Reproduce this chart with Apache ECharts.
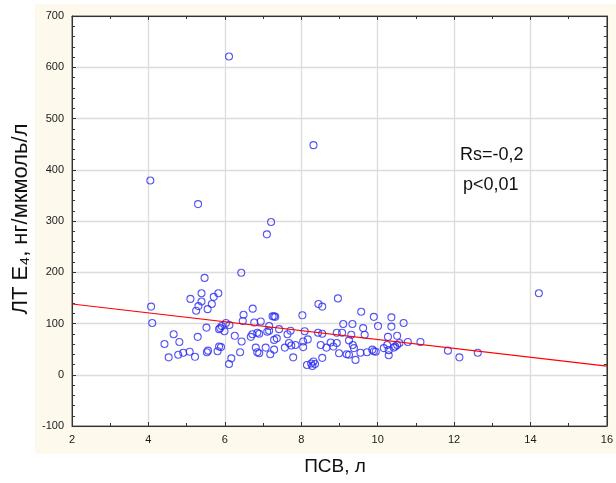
<!DOCTYPE html>
<html><head><meta charset="utf-8">
<script src="https://cdn.jsdelivr.net/npm/echarts@6/dist/echarts.min.js"></script>
<style>html,body{margin:0;padding:0;background:#fff}#c{width:616px;height:483px}</style>
</head><body><div id="c"></div>
<script>
// ПСВ, л (x) vs ЛТ E4 (y)
const outlierPoints = [[4.05,379],[6.11,621],[8.32,448],[5.30,333],[7.21,298],[7.10,274],[6.43,199],[5.47,189],[14.22,159]];
const leftPoints = [[4.07,133],[4.10,101],[5.10,148],[4.66,79],[4.42,60],[4.81,64],[4.53,34],[4.78,39],[4.91,43],[5.08,45],[5.22,35],[5.25,125],[5.29,74],
  [5.39,159],[5.83,159],[5.71,152],[5.39,143],[5.31,134],[5.66,138],[5.55,128],[5.52,92],[5.88,91],[5.85,89],[5.92,95],[6.03,101],[6.12,97],[6.49,117],[6.73,129],[6.47,105],[6.77,102],[5.99,85],[6.26,76],
  [5.53,44],[5.56,47],[5.81,46],[5.85,55],[5.90,54],[6.44,65],[6.40,44],[6.17,32],[6.11,21],[6.68,74],[6.72,79],[6.81,53],[6.85,44],[6.85,82]];
const midPoints = [[6.94,104],[6.90,80],[7.25,114],[7.29,114],[7.32,113],[7.16,95],[7.11,84],[7.16,86],[7.42,89],[7.29,68],[7.36,71],[7.64,79],[7.72,86],[7.68,62],[7.74,57],[7.85,58],[7.57,53],[7.07,53],[6.90,42],[7.19,40],[7.29,49],[7.79,34],
  [8.03,116],[8.09,85],[8.05,65],[8.17,69],[8.05,54],[8.15,19],[8.26,22],[8.32,26],[8.36,21],[8.29,17],[8.55,33],[8.51,58],[8.45,138],[8.55,133],[8.44,82],[8.55,80],[8.66,53],[8.77,63],[8.84,55],[8.93,62],[8.93,82],[8.96,149],
  [9.07,82],[9.10,99],[9.34,99],[8.99,42],[9.19,40],[9.25,67],[9.31,78],[9.35,58],[9.38,52],[9.25,39],[9.42,29],[9.57,123],[9.62,91],[9.66,78],[9.55,43],[9.72,44],[9.86,49],[9.90,113]];
const rightPoints = [[10.36,112],[10.01,95],[10.36,94],[10.68,101],[10.27,74],[10.51,76],[9.95,45],[9.90,46],[10.16,52],[10.25,58],[10.29,48],[10.29,38],[10.42,53],[10.46,55],[10.51,58],[10.57,62],[10.79,64],[11.12,64],[11.84,47],[12.14,34],[12.62,43]];
const fitLine = [[2,138],[16,17]];
const xRange = [2,16], xStep = 2;
const yRange = [-100,700], yStep = 100;
const annotation = ['Rs=-0,2','p<0,01'];
const xTitle = 'ПСВ, л';
const yTitle = 'ЛТ E₄, нг/мкмоль/л';

const allPoints = outlierPoints.concat(leftPoints, midPoints, rightPoints);
const chart = echarts.init(document.getElementById('c'), null, {renderer:'canvas'});
const tickFont = {fontFamily:'Liberation Sans', fontSize:11, color:'#1a1a1a'};
function mkAxis(pos, range, step, minorN, showLabel){
  return {
    type:'value', position:pos, min:range[0], max:range[1], interval:step,
    axisLine:{show:true, onZero:false, lineStyle:{color:'#333', width:1}},
    axisTick:{show:true, inside:true, length:4, lineStyle:{color:'#333', width:1}},
    minorTick:{show:true, splitNumber:minorN, length:3, lineStyle:{color:'#333', width:1}},
    splitLine:{show:showLabel, lineStyle:{color:'#dcdcdc', width:1.3}},
    axisLabel:Object.assign({show:showLabel, margin:8}, tickFont),
  };
}
const option = {
  backgroundColor:'#ffffff',
  animation:false,
  graphic:[
    {type:'rect', shape:{x:35,y:4,width:581,height:450}, style:{fill:'#fdf9ec'}, z:-10, silent:true},
    {type:'text', left:460, top:146, style:{text:annotation[0], font:'18px "Liberation Sans"', fill:'#111'}},
    {type:'text', left:463, top:176, style:{text:annotation[1], font:'18px "Liberation Sans"', fill:'#111'}},
    {type:'text', x:335, y:467, style:{text:xTitle, font:'19px "Liberation Sans"', fill:'#111', align:'center', verticalAlign:'middle'}},
    {type:'text', x:21, y:219, rotation:Math.PI/2, style:{text:yTitle, font:'22px "Liberation Sans"', fill:'#111', align:'center', verticalAlign:'middle'}}
  ],
  grid:{left:72, right:8, top:16, bottom:57, show:true, backgroundColor:'#ffffff', borderColor:'#333', borderWidth:1},
  xAxis:[mkAxis('bottom', xRange, xStep, 2, true), mkAxis('top', xRange, xStep, 2, false)],
  yAxis:[mkAxis('left', yRange, yStep, 5, true), mkAxis('right', yRange, yStep, 5, false)],
  series:[
    {type:'scatter', xAxisIndex:0, yAxisIndex:0, data:allPoints, symbol:'circle', symbolSize:7,
     itemStyle:{color:'rgba(0,0,0,0)', borderColor:'#2b2bf0', borderWidth:1.1}, z:3},
    {type:'line', xAxisIndex:0, yAxisIndex:0, data:fitLine, symbol:'none', lineStyle:{color:'#ff0000', width:1.2}, z:4}
  ]
};
chart.setOption(option);
</script></body></html>
